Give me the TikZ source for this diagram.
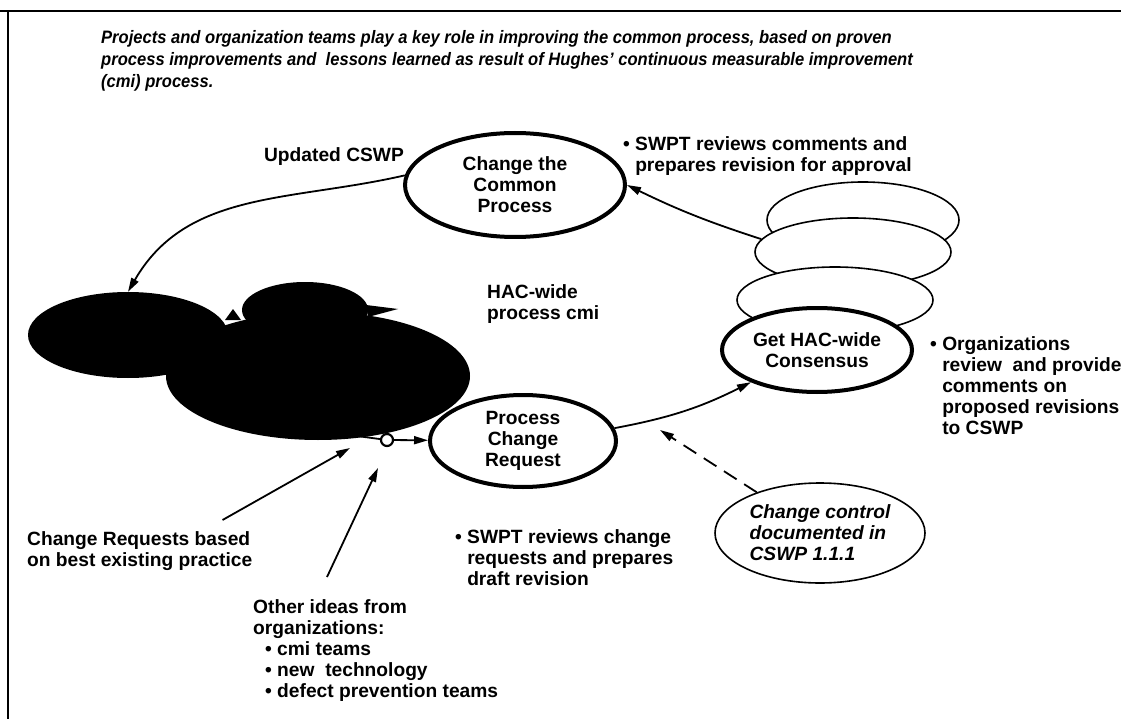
\documentclass[tikz,border=0pt]{standalone}
\usepackage{fontspec}
\setmainfont{Liberation Sans}
\usetikzlibrary{shapes.geometric,arrows.meta}

\newcommand{\bodyfont}{\fontsize{19.2}{21}\selectfont\bfseries}
\newcommand{\titlefont}{\fontsize{18}{22}\selectfont\bfseries\itshape\addfontfeatures{FakeStretch=0.92}}

\tikzset{
  procbox/.style={ellipse, draw, line width=4pt, fill=white, inner sep=0pt, align=center, font=\bodyfont},
  stackbox/.style={ellipse, draw, line width=1.6pt, fill=white},
  blob/.style={ellipse, fill=black, inner sep=0pt},
  note/.style={inner sep=0pt, align=left, anchor=north west, font=\bodyfont},
  arr/.style={line width=1.8pt, -{Triangle[length=14pt,width=8pt]}},
}

\begin{document}
\begin{tikzpicture}[x=1pt,y=-1pt]
\useasboundingbox (0,0) rectangle (1121,719);
\draw[line width=2.5pt] (0,11) -- (1121,11);
\draw[line width=2pt] (8,11) -- (8,719);

\node[note, font=\titlefont] (title) at (101,30) {Projects and organization teams play a key role in improving the common process, based on proven\\process improvements and\ \ lessons learned as result of Hughes' continuous measurable improvement\\(cmi) process.};

% the projects (blacked out)
\node[blob, minimum width=200pt, minimum height=86pt] (blobA) at (128,335) {};
\node[blob, minimum width=126pt, minimum height=56pt] (blobB) at (305,310) {};
\node[blob, minimum width=304pt, minimum height=128pt] (blobC) at (318,376) {};
\fill (225,320) -- (233,309) -- (241,320) -- cycle;
\fill (366,305) -- (398,309) -- (368,317) -- cycle;
\coordinate (blobout) at (357,436);

% cycle
\node[procbox, minimum width=220pt, minimum height=104pt] (change) at (515,185) {Change the\\Common\\Process};
\node[procbox, minimum width=186pt, minimum height=92pt] (pcr) at (523,441) {Process\\Change\\Request};
\node[stackbox, minimum width=192pt, minimum height=76pt] (stackA) at (863,220) {};
\node[stackbox, minimum width=196pt, minimum height=68pt] (stackB) at (853,252) {};
\node[stackbox, minimum width=196pt, minimum height=66pt] (stackC) at (835,300) {};
\node[procbox, minimum width=190pt, minimum height=84pt] (consensus) at (817,350) {Get HAC-wide\\Consensus};
\node[circle, draw, line width=2.2pt, fill=white, minimum size=12pt, inner sep=0pt] (gate) at (387,440) {};
\node[ellipse, draw, line width=1.6pt, inner sep=0pt, align=left, minimum width=210pt, minimum height=100pt, font=\bodyfont\itshape] (ctrl) at (820,533) {Change control\\documented in\\CSWP 1.1.1};

\draw[arr] (change.175) to[out=193,in=60] (blobA.north);
\draw[line width=1.8pt] (blobout) -- (gate);
\draw[arr] (gate) -- (pcr);
\draw[arr] (pcr.8) to[bend right=8] (consensus.206);
\draw[arr] (stackB.172) to[bend left=4] (change.east);
\coordinate (dashtip) at (660,430);
\draw[arr, dash pattern=on 15pt off 9pt] (ctrl) -- (dashtip);

% labels
\node[font=\bodyfont, inner sep=0pt] (updated) at (334,157) {Updated CSWP};
\node[note] (hac) at (487,284) {HAC-wide\\process cmi};
\node[note] (swpt1) at (623,136) {\textbullet\ SWPT reviews comments and\\\phantom{\textbullet\ }prepares revision for approval};
\node[note] (orgs) at (930,336) {\textbullet\ Organizations\\\phantom{\textbullet\ }review\ \ and provide\\\phantom{\textbullet\ }comments on\\\phantom{\textbullet\ }proposed revisions\\\phantom{\textbullet\ }to CSWP};
\node[note] (swpt2) at (455,529) {\textbullet\ SWPT reviews change\\\phantom{\textbullet\ }requests and prepares\\\phantom{\textbullet\ }draft revision};
\node[note] (crtext) at (27,531) {Change Requests based\\on best existing practice};
\node[note] (oitext) at (253,599) {Other ideas from\\organizations:\\\hspace*{12pt}\textbullet\ cmi teams\\\hspace*{12pt}\textbullet\ new\ \ technology\\\hspace*{12pt}\textbullet\ defect prevention teams};

\coordinate (crtip) at (350,448);
\coordinate (oitip) at (378,468);
\draw[arr] ([xshift=-30pt,yshift=11pt]crtext.north east) -- (crtip);
\draw[arr] ([xshift=74pt,yshift=22pt]oitext.north west) -- (oitip);
\end{tikzpicture}
\end{document}
